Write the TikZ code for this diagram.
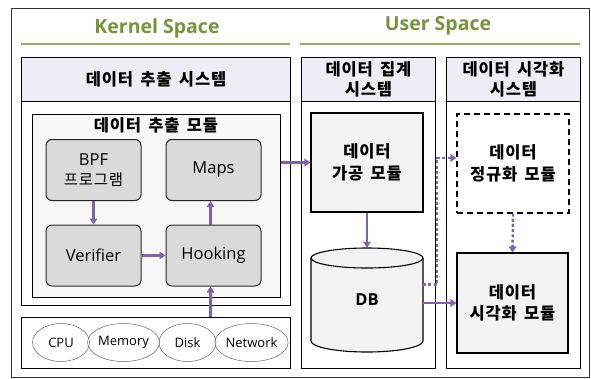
\documentclass[tikz,border=0pt]{standalone}
\usepackage{fontspec}
\setmainfont{Open Sans}
\newfontfamily\kr[LetterSpace=5, WordSpace=1.6]{Noto Sans CJK KR}
\usetikzlibrary{arrows.meta,shapes.geometric}
\definecolor{arrowpurple}{HTML}{7E63A6}
\definecolor{spacegreen}{HTML}{77933C}
\definecolor{ruleolive}{HTML}{93AD5C}
\definecolor{headfill}{HTML}{EDEDF5}
\definecolor{modfill}{HTML}{F7F7F7}
\definecolor{blockfill}{HTML}{DADADA}
\definecolor{procfill}{HTML}{F2F2F2}
\tikzset{
  box/.style={draw=black, line width=1.1pt, inner sep=0pt, anchor=north west},
  blockbox/.style={draw=black!85, line width=1pt, fill=blockfill, rounded corners=6pt,
    minimum width=95pt, minimum height=61pt, inner sep=0pt, align=center,
    font=\fontsize{16.5}{20}\selectfont},
  res/.style={ellipse, draw=black!60, line width=0.5pt, minimum width=57pt,
    minimum height=38pt, inner sep=0pt, font=\fontsize{13}{15}\selectfont},
  flow/.style={draw=arrowpurple, line width=2.4pt, -{Triangle[length=6pt,width=7.5pt]}},
  dotflow/.style={flow, dash pattern=on 3pt off 2.2pt},
  title/.style={font=\kr\bfseries\fontsize{16.5}{20}\selectfont, align=center},
  modtitle/.style={font=\kr\bfseries\fontsize{16.5}{21.5}\selectfont, align=center},
  spacelabel/.style={font=\bfseries\fontsize{19.5}{22}\selectfont, text=spacegreen},
  spacerule/.style={draw=ruleolive, line width=1.4pt}
}
\begin{document}
\begin{tikzpicture}[x=1pt, y=-1pt]
\useasboundingbox (0,0) rectangle (591,378);
\fill[white] (0,0) rectangle (591,378);

% outer frame
\draw[black!80, line width=0.8pt] (11,8) rectangle (589,377);

% space labels
\node[spacelabel] (kspace) at (157,28) {Kernel Space};
\node[spacelabel] (uspace) at (438,26) {User Space};
\draw[spacerule] (21,44) -- (290,44);
\draw[spacerule] (300,44) -- (580,44);

% ---- kernel side: data extraction system
\node[box, minimum width=269pt, minimum height=248pt] (ksys) at (21,57) {};
\node[box, fill=headfill, minimum width=269pt, minimum height=44pt, title] (khead) at (21,57) {데이터 추출 시스템};
\node[box, fill=modfill, minimum width=248pt, minimum height=183pt] (kmod) at (32,114) {};
\node[title] (kmodtitle) at (156,125) {데이터 추출 모듈};

\node[blockbox] (bpf) at (93.5,170) {BPF\\{\kr\fontsize{15.5}{20}\selectfont 프로그램}};
\node[blockbox] (maps) at (213.5,170) {Maps};
\node[blockbox] (verifier) at (93.5,255.5) {Verifier};
\node[blockbox] (hooking) at (213.5,255.5) {Hooking};

% hardware resources
\node[box, minimum width=269pt, minimum height=51pt] (hw) at (21,317) {};
\node[res] (cpu) at (61,342.5) {CPU};
\node[res] (mem) at (123.5,342.5) {Memory};
\node[res] (disk) at (187.5,342.5) {Disk};
\node[res] (net) at (251.5,342.5) {Network};

% ---- user side: aggregation system
\node[box, minimum width=134pt, minimum height=311pt] (asys) at (301,57) {};
\node[box, fill=headfill, minimum width=134pt, minimum height=44pt, title] (ahead) at (301,57) {데이터 집계\\시스템};
\node[box, fill=procfill, minimum width=112pt, minimum height=99pt, anchor=center, modtitle] (proc) at (367,162.5) {데이터\\가공 모듈};

% database cylinder
\draw[black, line width=1.1pt, fill=procfill]
  (311,258) -- (311,341) arc[start angle=180, end angle=360, x radius=56pt, y radius=11pt]
  -- (423,258) arc[start angle=0, end angle=180, x radius=56pt, y radius=10pt] -- cycle;
\draw[black, line width=1.1pt]
  (311,258) arc[start angle=180, end angle=360, x radius=56pt, y radius=10pt];
\node[minimum width=112pt, minimum height=104pt, inner sep=0pt,
  font=\bfseries\fontsize{16.5}{20}\selectfont] (db) at (367,300) {DB};

% ---- user side: visualization system
\node[box, minimum width=134pt, minimum height=311pt] (vsys) at (446,57) {};
\node[box, fill=headfill, minimum width=134pt, minimum height=44pt, title] (vhead) at (446,57) {데이터 시각화\\시스템};
\node[draw=black, line width=1.1pt, dashed, dash pattern=on 6pt off 4pt, fill=white,
  minimum width=112pt, minimum height=99pt, inner sep=0pt, modtitle] (norm) at (513,163.5) {데이터\\정규화 모듈};
\node[draw=black, line width=1.1pt, fill=procfill, minimum width=111pt, minimum height=100pt,
  inner sep=0pt, modtitle] (vis) at (512.5,303) {데이터\\시각화 모듈};

% ---- connectors
\draw[flow] (bpf) -- (verifier);
\draw[flow] (verifier) -- (hooking);
\draw[flow] ([xshift=-3pt]hooking.north) -- ([xshift=-3pt]maps.south);
\draw[flow] ([xshift=-3pt]hooking.south |- hw.north) -- ([xshift=-3pt]hooking.south);
\draw[flow] (kmod.east |- proc.west) -- (proc.west);
\draw[flow] (proc) -- (db.north);
\draw[flow] (db.east |- vis.west) -- (vis.west);
\draw[dotflow] ([yshift=15.5pt]db.east) -- ++(14,0) |- ([yshift=5.5pt]norm.west);
\draw[dotflow] (norm.south) -- (vis.north);
\end{tikzpicture}
\end{document}
